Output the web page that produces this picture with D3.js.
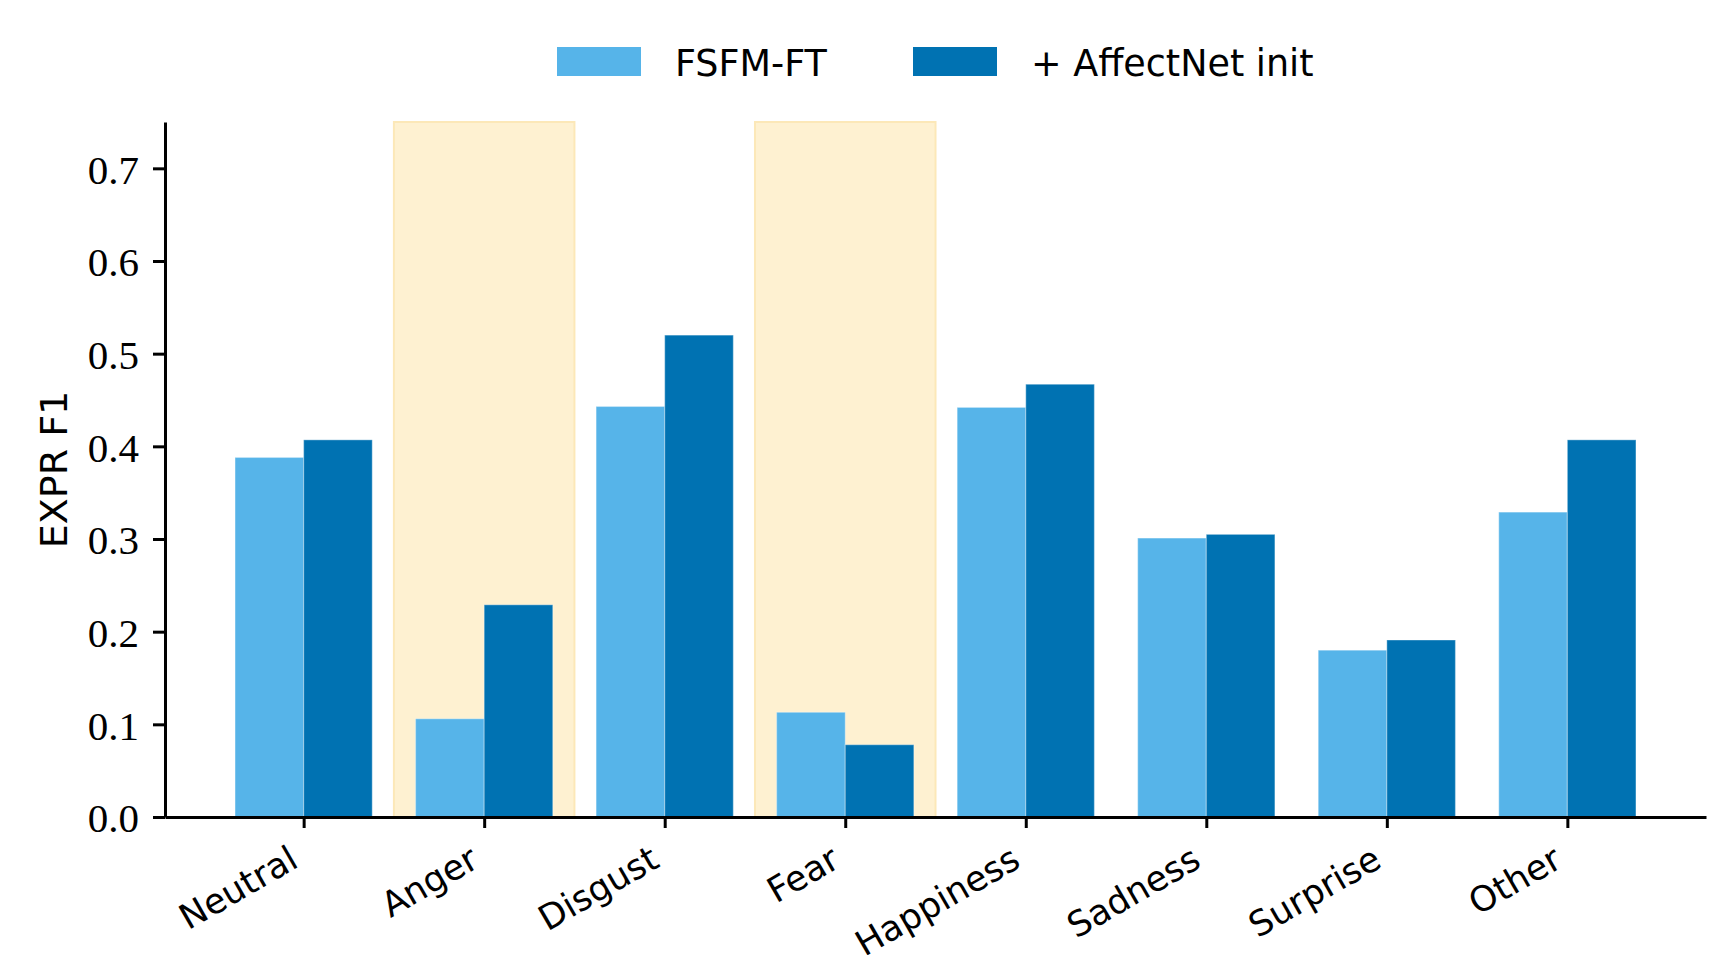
<!DOCTYPE html>
<html>
<head>
<meta charset="utf-8">
<script src="https://cdn.jsdelivr.net/npm/d3@7"></script>
<style>
  body { margin: 0; background: #fff; }
  .sans { font-family: "DejaVu Sans", sans-serif; }
</style>
</head>
<body>
<div id="chart-container"></div>
<script>
// values
const categories = ["Neutral", "Anger", "Disgust", "Fear", "Happiness", "Sadness", "Surprise", "Other"];
const fsfmFT = [0.388, 0.106, 0.443, 0.113, 0.442, 0.301, 0.180, 0.329];
const affectNetInit = [0.407, 0.229, 0.520, 0.078, 0.467, 0.305, 0.191, 0.407];
const highlighted = ["Anger", "Fear"];
const yTicks = [0.0, 0.1, 0.2, 0.3, 0.4, 0.5, 0.6, 0.7];
const seriesNames = ["FSFM-FT", "+ AffectNet init"];
const seriesColors = ["#56B4E9", "#0072B2"];

const W = 1736, H = 955;
const margin = {top: 122, right: 30, bottom: 138, left: 165};
const barW = 0.38;

const svg = d3.select("#chart-container")
    .append("svg")
    .attr("width", W)
    .attr("height", H)
    .style("background", "#fff");

const x = d3.scaleLinear()
    .domain([-0.768, categories.length - 1 + 0.768])
    .range([margin.left, W - margin.right]);

const y = d3.scaleLinear()
    .domain([0, 0.75])
    .range([H - margin.bottom, margin.top]);

// highlighted categories
svg.append("g")
    .selectAll("rect")
    .data(highlighted)
    .join("rect")
    .attr("x", d => x(categories.indexOf(d) - 0.5))
    .attr("width", d => x(categories.indexOf(d) + 0.5) - x(categories.indexOf(d) - 0.5))
    .attr("y", y(0.75))
    .attr("height", y(0) - y(0.75))
    .attr("fill", "#FEF1D1")
    .attr("stroke", "#FCE8B8")
    .attr("stroke-width", 2);

// bars
const series = [fsfmFT, affectNetInit];
series.forEach((vals, s) => {
    svg.append("g")
        .selectAll("rect")
        .data(vals)
        .join("rect")
        .attr("x", (d, i) => x(i - barW + s * barW))
        .attr("width", x(barW) - x(0))
        .attr("y", d => y(d))
        .attr("height", d => y(0) - y(d))
        .attr("fill", seriesColors[s])
        .attr("stroke", "rgba(255,255,255,0.3)")
        .attr("stroke-width", 1.2);
});

// Y axis
const yAxis = svg.append("g")
    .attr("transform", `translate(${margin.left},0)`)
    .call(d3.axisLeft(y).tickValues(yTicks).tickFormat(d3.format(".1f")).tickSize(12).tickSizeOuter(0).tickPadding(14));
yAxis.select(".domain").attr("stroke", "#000").attr("stroke-width", 3);
yAxis.selectAll(".tick line").attr("stroke", "#000").attr("stroke-width", 3);
yAxis.selectAll(".tick text")
    .attr("dy", "0.36em")
    .style("font-family", "'Liberation Serif', serif")
    .style("font-size", "41px")
    .attr("fill", "#000");

// X axis
const xAxis = svg.append("g")
    .attr("transform", `translate(0,${y(0)})`)
    .call(d3.axisBottom(x).tickValues(d3.range(categories.length)).tickFormat(i => categories[i]).tickSize(11).tickSizeOuter(0));
xAxis.select(".domain").attr("stroke", "#000").attr("stroke-width", 3);
xAxis.selectAll(".tick line").attr("stroke", "#000").attr("stroke-width", 3);
xAxis.selectAll(".tick text")
    .attr("y", 0)
    .attr("dy", 0)
    .attr("transform", "translate(-4,49) rotate(-30)")
    .style("text-anchor", "end")
    .style("font-family", "'DejaVu Sans', sans-serif")
    .style("font-size", "35px")
    .attr("fill", "#000");

// Y label
svg.append("text")
    .attr("class", "sans")
    .attr("transform", `translate(67,${(y(0) + y(0.75)) / 2}) rotate(-90)`)
    .attr("text-anchor", "middle")
    .style("font-size", "38px")
    .text("EXPR F1");

// legend
const legendX = [557, 913];
const legend = svg.append("g")
    .selectAll("g")
    .data(seriesNames)
    .join("g")
    .attr("transform", (d, i) => `translate(${legendX[i]},47)`);
legend.append("rect")
    .attr("width", 84)
    .attr("height", 29)
    .attr("fill", (d, i) => seriesColors[i]);
legend.append("text")
    .attr("class", "sans")
    .attr("x", 118)
    .attr("y", 29)
    .style("font-size", "36.5px")
    .text(d => d);
</script>
</body>
</html>
